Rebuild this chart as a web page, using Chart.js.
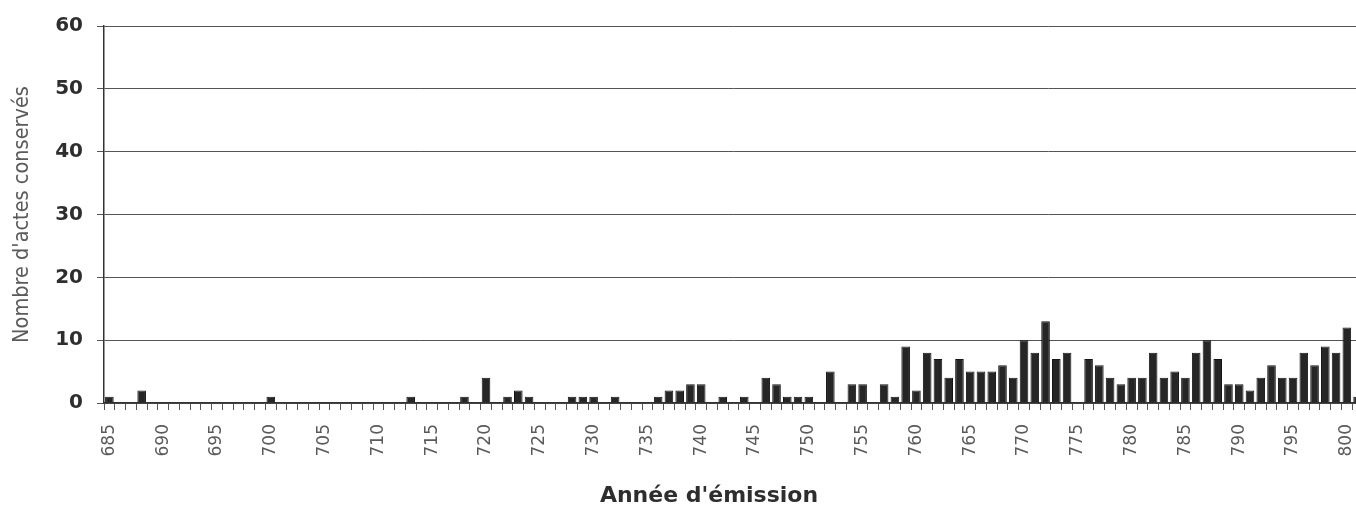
<!DOCTYPE html>
<html>
<head>
<meta charset="utf-8">
<script src="https://cdn.jsdelivr.net/npm/chart.js@4.4.1/dist/chart.umd.min.js"></script>
<style>
  html, body { margin: 0; padding: 0; background: #fff; overflow: hidden; }
  #wrap { width: 1392px; height: 508px; position: relative; }
</style>
</head>
<body>
<div id="wrap"><canvas id="actesChart"></canvas></div>
<script>
// années d'émission (685 -> 801)
const years = [
  '685','686','687','688','689','690','691','692','693','694',
  '695','696','697','698','699','700','701','702','703','704',
  '705','706','707','708','709','710','711','712','713','714',
  '715','716','717','718','719','720','721','722','723','724',
  '725','726','727','728','729','730','731','732','733','734',
  '735','736','737','738','739','740','741','742','743','744',
  '745','746','747','748','749','750','751','752','753','754',
  '755','756','757','758','759','760','761','762','763','764',
  '765','766','767','768','769','770','771','772','773','774',
  '775','776','777','778','779','780','781','782','783','784',
  '785','786','787','788','789','790','791','792','793','794',
  '795','796','797','798','799','800','801'
];

// nombre d'actes conservés par année
const actes = [
  1, 0, 0, 2, 0, 0, 0, 0, 0, 0,
  0, 0, 0, 0, 0, 1, 0, 0, 0, 0,
  0, 0, 0, 0, 0, 0, 0, 0, 1, 0,
  0, 0, 0, 1, 0, 4, 0, 1, 2, 1,
  0, 0, 0, 1, 1, 1, 0, 1, 0, 0,
  0, 1, 2, 2, 3, 3, 0, 1, 0, 1,
  0, 4, 3, 1, 1, 1, 0, 5, 0, 3,
  3, 0, 3, 1, 9, 2, 8, 7, 4, 7,
  5, 5, 5, 6, 4, 10, 8, 13, 7, 8,
  0, 7, 6, 4, 3, 4, 4, 8, 4, 5,
  4, 8, 10, 7, 3, 3, 2, 4, 6, 4,
  4, 8, 6, 9, 8, 12, 1
];

// graduations
const yTicks = [0, 10, 20, 30, 40, 50, 60];
const labelEvery = 5;

// titre de l'axe x dessiné à la main (centré comme sur l'original)
const xTitlePlugin = {
  id: 'xTitle',
  afterDraw(chart) {
    const ctx = chart.ctx;
    ctx.save();
    ctx.font = "bold 22px 'DejaVu Sans'";
    ctx.fillStyle = '#2e2e2e';
    ctx.textAlign = 'center';
    ctx.textBaseline = 'middle';
    ctx.fillText("Année d'émission", 709, 496);
    ctx.restore();
  }
};

const ctx = document.getElementById('actesChart').getContext('2d');
new Chart(ctx, {
  type: 'bar',
  data: {
    labels: years,
    datasets: [{
      label: "Nombre d'actes conservés",
      data: actes,
      backgroundColor: '#262626',
      borderColor: '#151515',
      borderWidth: 1,
      barPercentage: 0.8,
      categoryPercentage: 1.0
    }]
  },
  options: {
    responsive: true,
    maintainAspectRatio: false,
    animation: false,
    layout: { padding: { top: 24, right: 0, left: 0, bottom: 0 } },
    plugins: {
      legend: { display: false },
      tooltip: { enabled: false }
    },
    scales: {
      x: {
        afterFit: (scale) => { scale.height = 105; },
        border: { display: true, color: '#333', width: 1.5 },
        grid: {
          display: true,
          drawOnChartArea: false,
          drawTicks: true,
          tickLength: 7,
          offset: true,
          color: '#555'
        },
        ticks: {
          autoSkip: false,
          minRotation: 90,
          maxRotation: 90,
          padding: 14,
          color: '#5a5a5a',
          font: { family: "'DejaVu Sans'", size: 17, weight: 'normal' },
          callback: function(value, index) {
            const y = Number(years[index]);
            return (y - 685) % labelEvery === 0 && y <= 800 ? years[index] : '';
          }
        }
      },
      y: {
        min: yTicks[0],
        max: yTicks[yTicks.length - 1],
        afterFit: (scale) => { scale.width = 104; },
        border: { display: true, color: '#333', width: 1.5 },
        grid: {
          color: '#555',
          lineWidth: 1,
          tickLength: 7
        },
        ticks: {
          stepSize: yTicks[1] - yTicks[0],
          padding: 14,
          color: '#2e2e2e',
          font: { family: "'DejaVu Sans'", size: 20, weight: 'bold' }
        },
        title: {
          display: true,
          text: "Nombre d'actes conservés",
          color: '#5a5a5a',
          padding: { top: 10, bottom: 0 },
          font: { family: "'DejaVu Sans Condensed', 'DejaVu Sans'", size: 21.5, weight: 'normal' }
        }
      }
    }
  },
  plugins: [xTitlePlugin]
});
</script>
</body>
</html>
